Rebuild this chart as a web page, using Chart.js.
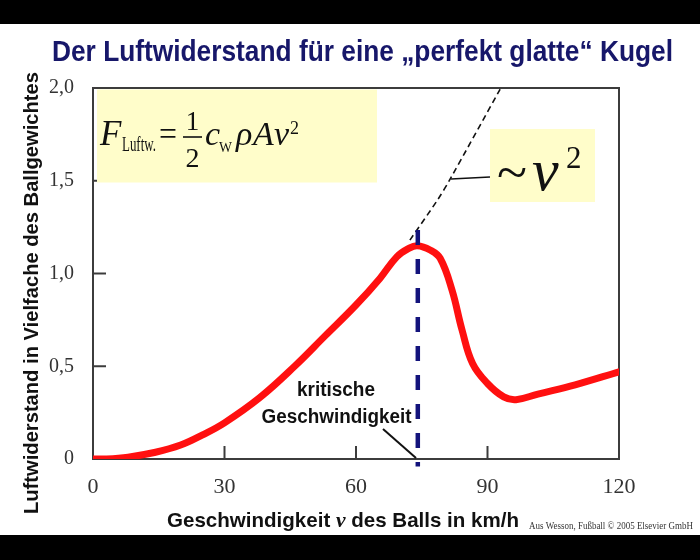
<!DOCTYPE html>
<html>
<head>
<meta charset="utf-8">
<title>Luftwiderstand</title>
<script src="https://cdn.jsdelivr.net/npm/chart.js@4.4.1/dist/chart.umd.min.js"></script>
<style>
  html, body { margin: 0; padding: 0; background: #000; }
  #wrap { width: 700px; height: 560px; }
</style>
</head>
<body>
<div id="wrap"><canvas id="myChart" width="700" height="560"></canvas></div>
<script>
// Werte (v in km/h, Luftwiderstand in Vielfachen des Ballgewichts)
const speed = [0, 3, 8, 14, 20, 25, 30, 38, 46, 53, 60, 65.5, 69.3, 72, 74, 76.9, 79.2, 81.9, 84.2, 86.6, 90, 93.7, 96.5, 101.5, 110, 120];
const drag = [0, 0, 0.01, 0.035, 0.075, 0.13, 0.195, 0.33, 0.50, 0.665, 0.83, 0.975, 1.09, 1.135, 1.15, 1.127, 1.082, 0.911, 0.695, 0.515, 0.407, 0.335, 0.32, 0.35, 0.40, 0.47];

// gestrichelte ~v^2 Linie
const v2Speed = [72.3, 78.7, 81.5, 92.8, 93.1];
const v2Drag = [1.18, 1.40, 1.51, 1.99, 2.0];

// kritische Geschwindigkeit (senkrechte Linie)
const critSpeed = [74.1, 74.1];
const critDrag = [1.235, -0.04];

const xTicks = [0, 30, 60, 90, 120];
const xTickLabels = ['0', '30', '60', '90', '120'];
const yTicks = [0, 0.5, 1, 1.5, 2];
const yTickLabels = ['0', '0,5', '1,0', '1,5', '2,0'];

const SERIF = '"Liberation Serif", "Times New Roman", serif';
const SANS = '"Liberation Sans", Arial, sans-serif';

function toPoints(xs, ys) {
    return xs.map((x, i) => ({ x: x, y: ys[i] }));
}

// Text auf eine bestimmte Breite stauchen
function fitText(ctx, str, x, y, font, width, align) {
    ctx.save();
    ctx.font = font;
    let w = ctx.measureText(str).width;
    let sx = width ? width / w : 1;
    ctx.translate(x, y);
    ctx.scale(sx, 1);
    ctx.textAlign = align || 'left';
    ctx.textBaseline = 'alphabetic';
    ctx.fillText(str, 0, 0);
    ctx.restore();
}

function drawPieces(ctx, pieces, x, y, width) {
    let total = 0;
    pieces.forEach(p => { ctx.font = p.font; p.w = ctx.measureText(p.t).width; total += p.w; });
    ctx.save();
    ctx.translate(x, y);
    ctx.scale(width / total, 1);
    ctx.textAlign = 'left';
    ctx.textBaseline = 'alphabetic';
    let cx = 0;
    pieces.forEach(p => { ctx.font = p.font; ctx.fillText(p.t, cx, 0); cx += p.w; });
    ctx.restore();
}

function line(ctx, x1, y1, x2, y2) {
    ctx.beginPath();
    ctx.moveTo(x1, y1);
    ctx.lineTo(x2, y2);
    ctx.stroke();
}

const slidePlugin = {
    id: 'slide',
    beforeDraw(chart) {
        const ctx = chart.ctx;
        ctx.save();
        ctx.fillStyle = '#fff';
        ctx.fillRect(0, 0, chart.width, chart.height);
        ctx.fillStyle = '#000';
        ctx.fillRect(0, 0, chart.width, 24);
        ctx.fillRect(0, 535, chart.width, chart.height - 535);
        ctx.restore();
    },
    beforeDatasetsDraw(chart) {
        const ctx = chart.ctx;
        const a = chart.chartArea;
        const xs = chart.scales.x, ys = chart.scales.y;
        ctx.save();
        ctx.strokeStyle = '#3c3c3c';
        ctx.lineWidth = 2;
        ctx.strokeRect(a.left, a.top, a.right - a.left, a.bottom - a.top);
        // Ticks nach innen
        xTicks.slice(1, -1).forEach(v => {
            let px = xs.getPixelForValue(v);
            line(ctx, px, a.bottom, px, a.bottom - 13);
        });
        yTicks.slice(1, -1).forEach(v => {
            let py = ys.getPixelForValue(v);
            line(ctx, a.left, py, a.left + 13, py);
        });
        // gelbe Kaesten
        ctx.fillStyle = '#fffdca';
        ctx.fillRect(97, 89.5, 280, 93);
        ctx.fillRect(490, 129, 105, 73);
        ctx.restore();
    },
    afterDatasetsDraw(chart) {
        const ctx = chart.ctx;
        ctx.save();
        ctx.fillStyle = '#111';
        ctx.strokeStyle = '#111';

        // Formel F = 1/2 cW rho A v^2
        fitText(ctx, 'F', 100, 145, 'italic 35px ' + SERIF);
        fitText(ctx, 'Luftw.', 122, 151, '20px ' + SERIF, 34);
        fitText(ctx, '=', 159, 145, '33px ' + SERIF, 18);
        fitText(ctx, '1', 192.5, 130, '27px ' + SERIF, 0, 'center');
        fitText(ctx, '2', 192.5, 167, '28px ' + SERIF, 0, 'center');
        ctx.lineWidth = 1.6;
        line(ctx, 183, 137, 202, 137);
        fitText(ctx, 'c', 205, 145, 'italic 34px ' + SERIF);
        fitText(ctx, 'W', 219, 152, '15px ' + SERIF, 13);
        fitText(ctx, 'ρ', 236, 145, 'italic 34px ' + SERIF);
        fitText(ctx, 'A', 253, 145, 'italic 34px ' + SERIF);
        fitText(ctx, 'v', 274, 145, 'italic 34px ' + SERIF);
        fitText(ctx, '2', 290, 134, '18px ' + SERIF);

        // ~ v^2
        fitText(ctx, '~', 497, 190, '52px ' + SERIF, 30);
        fitText(ctx, 'v', 532, 190, 'italic 60px ' + SERIF);
        fitText(ctx, '2', 566, 168, '31px ' + SERIF);
        ctx.lineWidth = 1.6;
        line(ctx, 490, 177, 451, 179);

        // kritische Geschwindigkeit
        fitText(ctx, 'kritische', 336, 396, 'bold 20px ' + SANS, 78, 'center');
        fitText(ctx, 'Geschwindigkeit', 336.5, 423, 'bold 20px ' + SANS, 150, 'center');
        ctx.lineWidth = 2;
        line(ctx, 383, 429, 416, 458);

        // Titel
        ctx.fillStyle = '#17176a';
        fitText(ctx, 'Der Luftwiderstand für eine „perfekt glatte“ Kugel', 52, 61, 'bold 30px ' + SANS, 621);

        // Achsentitel
        ctx.fillStyle = '#111';
        drawPieces(ctx, [
            { t: 'Geschwindigkeit ', font: 'bold 21px ' + SANS },
            { t: 'v', font: 'bold italic 22px ' + SERIF },
            { t: ' des Balls in km/h', font: 'bold 21px ' + SANS }
        ], 167, 527, 352);

        ctx.save();
        ctx.translate(37.5, 293);
        ctx.rotate(-Math.PI / 2);
        fitText(ctx, 'Luftwiderstand in Vielfache des Ballgewichtes', 0, 0, 'bold 20px ' + SANS, 442, 'center');
        ctx.restore();

        ctx.fillStyle = '#333';
        fitText(ctx, 'Aus Wesson, Fußball © 2005 Elsevier GmbH', 529, 529, '10.5px ' + SERIF, 164);
        ctx.restore();
    }
};

window.onload = () => {
    const ctx = document.getElementById('myChart').getContext('2d');
    const chart = new Chart(ctx, {
        type: 'line',
        data: {
            datasets: [{
                label: 'kritische Geschwindigkeit',
                data: toPoints(critSpeed, critDrag),
                borderColor: '#13137c',
                borderWidth: 4.5,
                borderDash: [15, 14],
                pointRadius: 0,
                clip: false,
                order: 0
            }, {
                label: '~ v²',
                data: toPoints(v2Speed, v2Drag),
                borderColor: '#111',
                borderWidth: 1.6,
                borderDash: [6, 4],
                pointRadius: 0,
                tension: 0.3,
                order: 1
            }, {
                label: 'Luftwiderstand',
                data: toPoints(speed, drag),
                borderColor: '#ff1010',
                borderWidth: 7,
                pointRadius: 0,
                tension: 0.4,
                borderCapStyle: 'round',
                borderJoinStyle: 'round',
                order: 2
            }]
        },
        options: {
            responsive: false,
            animation: false,
            events: [],
            layout: { padding: { top: 88, right: 81, left: 0, bottom: 0 } },
            plugins: {
                legend: { display: false },
                tooltip: { enabled: false },
                title: { display: false }
            },
            scales: {
                x: {
                    type: 'linear',
                    min: 0,
                    max: 120,
                    afterBuildTicks: s => { s.ticks = xTicks.map(v => ({ value: v })); },
                    afterFit: s => { s.height = 101; },
                    grid: { display: false },
                    border: { display: false },
                    ticks: {
                        font: { family: SERIF, size: 22 },
                        color: '#333',
                        padding: 7,
                        maxRotation: 0,
                        autoSkip: false,
                        callback: (v, i) => xTickLabels[i]
                    }
                },
                y: {
                    type: 'linear',
                    min: 0,
                    max: 2,
                    afterBuildTicks: s => { s.ticks = yTicks.map(v => ({ value: v })); },
                    afterFit: s => { s.width = 93; },
                    grid: { display: false },
                    border: { display: false },
                    ticks: {
                        font: { family: SERIF, size: 20 },
                        color: '#333',
                        padding: 11,
                        autoSkip: false,
                        callback: (v, i) => yTickLabels[i]
                    }
                }
            }
        },
        plugins: [slidePlugin]
    });
};
</script>
</body>
</html>
